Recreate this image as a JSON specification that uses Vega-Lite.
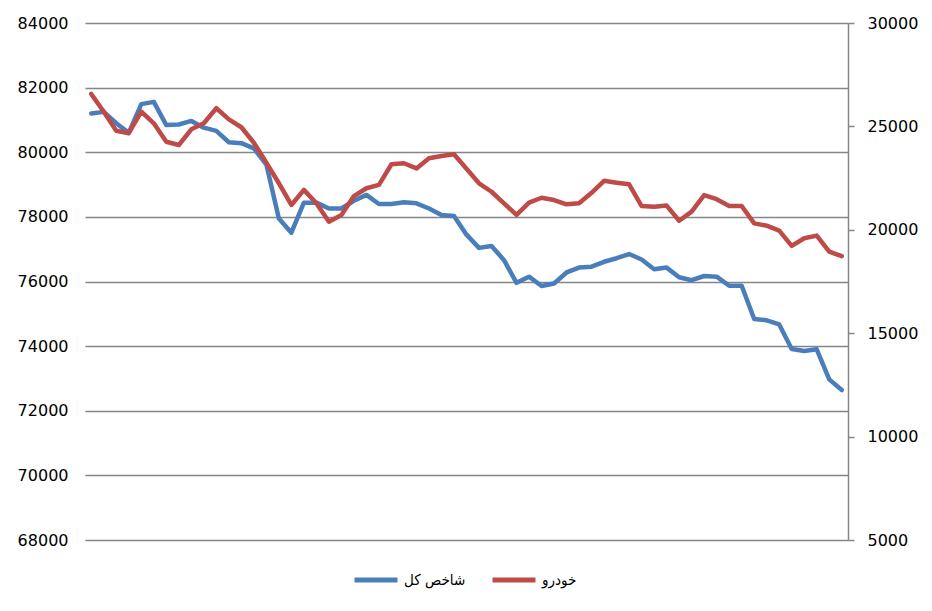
{
  "$schema": "https://vega.github.io/schema/vega-lite/v6.json",
  "autosize": {"type": "none"},
  "width": 763,
  "height": 517,
  "padding": {"left": 85, "top": 23, "right": 84, "bottom": 71},
  "background": "white",
  "config": {
    "view": {"stroke": null},
    "font": "DejaVu Sans"
  },
  "data": {
    "values": [
      {"i": 0, "kol": 81200, "khodro": 26570},
      {"i": 1, "kol": 81250, "khodro": 25710},
      {"i": 2, "kol": 80900, "khodro": 24790},
      {"i": 3, "kol": 80600, "khodro": 24670},
      {"i": 4, "kol": 81490, "khodro": 25710},
      {"i": 5, "kol": 81560, "khodro": 25150},
      {"i": 6, "kol": 80840, "khodro": 24260},
      {"i": 7, "kol": 80860, "khodro": 24100},
      {"i": 8, "kol": 80970, "khodro": 24860},
      {"i": 9, "kol": 80760, "khodro": 25150},
      {"i": 10, "kol": 80660, "khodro": 25880},
      {"i": 11, "kol": 80310, "khodro": 25340},
      {"i": 12, "kol": 80280, "khodro": 24960},
      {"i": 13, "kol": 80120, "khodro": 24210},
      {"i": 14, "kol": 79620, "khodro": 23250},
      {"i": 15, "kol": 77950, "khodro": 22250},
      {"i": 16, "kol": 77510, "khodro": 21200},
      {"i": 17, "kol": 78440, "khodro": 21930},
      {"i": 18, "kol": 78440, "khodro": 21280},
      {"i": 19, "kol": 78260, "khodro": 20390},
      {"i": 20, "kol": 78260, "khodro": 20720},
      {"i": 21, "kol": 78500, "khodro": 21630},
      {"i": 22, "kol": 78680, "khodro": 22010},
      {"i": 23, "kol": 78400, "khodro": 22170},
      {"i": 24, "kol": 78400, "khodro": 23170},
      {"i": 25, "kol": 78450, "khodro": 23220},
      {"i": 26, "kol": 78420, "khodro": 22970},
      {"i": 27, "kol": 78260, "khodro": 23460},
      {"i": 28, "kol": 78060, "khodro": 23570},
      {"i": 29, "kol": 78030, "khodro": 23650},
      {"i": 30, "kol": 77450, "khodro": 22950},
      {"i": 31, "kol": 77040, "khodro": 22250},
      {"i": 32, "kol": 77100, "khodro": 21840},
      {"i": 33, "kol": 76660, "khodro": 21280},
      {"i": 34, "kol": 75960, "khodro": 20720},
      {"i": 35, "kol": 76150, "khodro": 21310},
      {"i": 36, "kol": 75860, "khodro": 21550},
      {"i": 37, "kol": 75940, "khodro": 21440},
      {"i": 38, "kol": 76280, "khodro": 21230},
      {"i": 39, "kol": 76430, "khodro": 21280},
      {"i": 40, "kol": 76460, "khodro": 21790},
      {"i": 41, "kol": 76610, "khodro": 22370},
      {"i": 42, "kol": 76720, "khodro": 22280},
      {"i": 43, "kol": 76850, "khodro": 22200},
      {"i": 44, "kol": 76680, "khodro": 21150},
      {"i": 45, "kol": 76380, "khodro": 21120},
      {"i": 46, "kol": 76430, "khodro": 21170},
      {"i": 47, "kol": 76130, "khodro": 20440},
      {"i": 48, "kol": 76040, "khodro": 20880},
      {"i": 49, "kol": 76170, "khodro": 21680},
      {"i": 50, "kol": 76150, "khodro": 21480},
      {"i": 51, "kol": 75870, "khodro": 21150},
      {"i": 52, "kol": 75870, "khodro": 21150},
      {"i": 53, "kol": 74840, "khodro": 20310},
      {"i": 54, "kol": 74800, "khodro": 20200},
      {"i": 55, "kol": 74670, "khodro": 19960},
      {"i": 56, "kol": 73910, "khodro": 19220},
      {"i": 57, "kol": 73850, "khodro": 19590},
      {"i": 58, "kol": 73900, "khodro": 19720},
      {"i": 59, "kol": 72970, "khodro": 18940},
      {"i": 60, "kol": 72640, "khodro": 18730}
    ]
  },
  "encoding": {
    "x": {
      "field": "i",
      "type": "quantitative",
      "scale": {"domain": [-0.5, 60.5], "nice": false, "zero": false},
      "axis": null
    }
  },
  "layer": [
    {
      "mark": {"type": "line", "strokeWidth": 4.5, "strokeJoin": "round", "strokeCap": "round"},
      "encoding": {
        "y": {
          "field": "kol",
          "type": "quantitative",
          "scale": {"domain": [68000, 84000], "nice": false, "zero": false},
          "axis": {
            "orient": "left",
            "title": null,
            "values": [68000, 70000, 72000, 74000, 76000, 78000, 80000, 82000, 84000],
            "format": "d",
            "grid": true,
            "gridColor": "#868686",
            "gridWidth": 1.5,
            "gridOpacity": 1,
            "domain": false,
            "ticks": false,
            "labelPadding": 17,
            "labelFont": "DejaVu Sans",
            "labelFontSize": 16,
            "labelColor": "#000000"
          }
        },
        "color": {
          "datum": "شاخص کل",
          "scale": {"domain": ["شاخص کل", "خودرو"], "range": ["#4A7EBB", "#BE4B48"]},
          "legend": {
            "orient": "none",
            "legendX": 267,
            "legendY": 533,
            "direction": "horizontal",
            "title": null,
            "symbolType": "stroke",
            "symbolSize": 1849,
            "symbolStrokeWidth": 5,
            "labelFont": "DejaVu Sans Condensed, DejaVu Sans",
            "labelFontSize": 15,
            "labelColor": "#000000",
            "labelOffset": 4,
            "columnPadding": 16
          }
        }
      }
    },
    {
      "mark": {"type": "line", "strokeWidth": 4.5, "strokeJoin": "round", "strokeCap": "round"},
      "encoding": {
        "y": {
          "field": "khodro",
          "type": "quantitative",
          "scale": {"domain": [5000, 30000], "nice": false, "zero": false},
          "axis": {
            "orient": "right",
            "title": null,
            "values": [5000, 10000, 15000, 20000, 25000, 30000],
            "format": "d",
            "grid": false,
            "domain": true,
            "domainColor": "#868686",
            "domainWidth": 1.5,
            "ticks": true,
            "tickColor": "#868686",
            "tickWidth": 1.5,
            "tickSize": 6,
            "labelPadding": 13,
            "labelFont": "DejaVu Sans",
            "labelFontSize": 16,
            "labelColor": "#000000"
          }
        },
        "color": {"datum": "خودرو"}
      }
    }
  ],
  "resolve": {"scale": {"y": "independent"}}
}
